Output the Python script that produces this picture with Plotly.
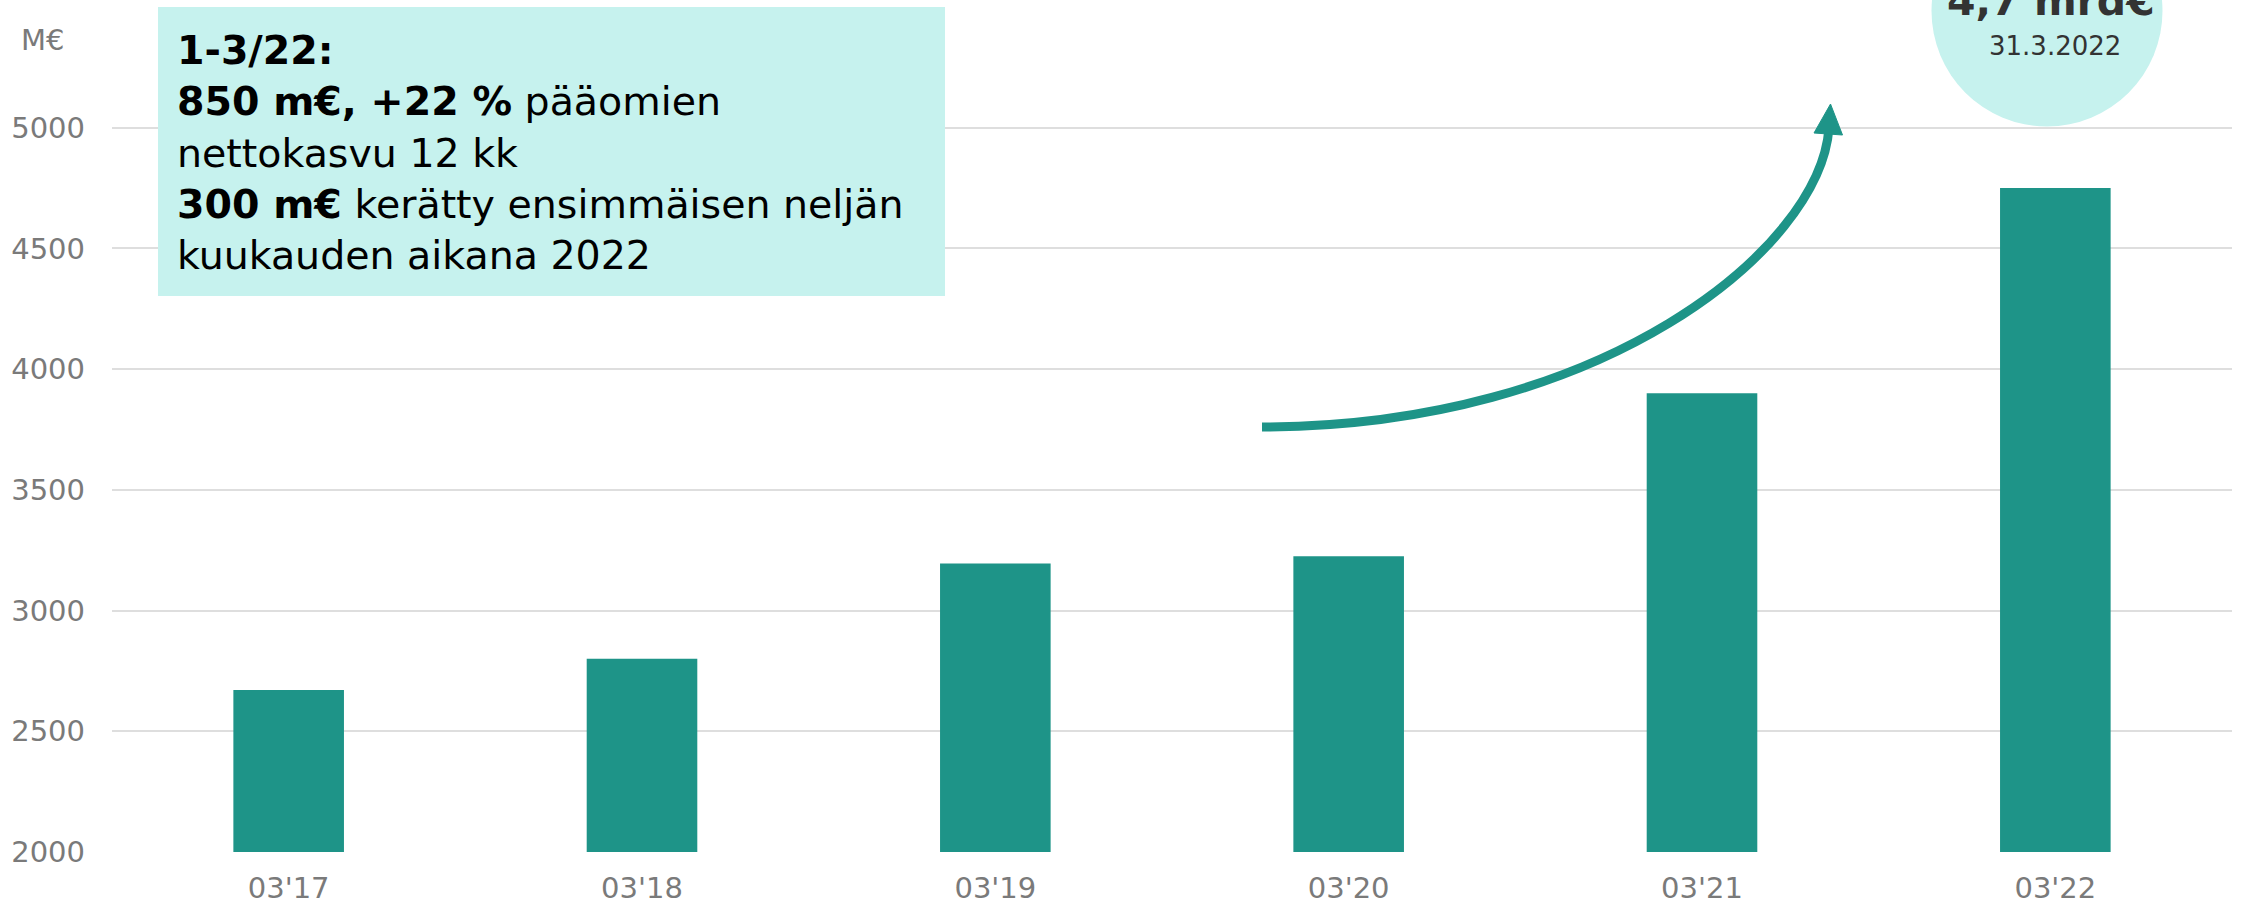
import plotly.graph_objects as go

categories = ["03'17", "03'18", "03'19", "03'20", "03'21", "03'22"]
values = [2671, 2800, 3195, 3225, 3900, 4750]
y_ticks = [2000, 2500, 3000, 3500, 4000, 4500, 5000]

BAR = "#1E9488"
LIGHT = "#C6F2EE"
GRAY = "#7A7A7A"
FONT = "DejaVu Sans"

W, H = 2247, 904
L, R, T, B = 112, 15, 7, 52
PW, PH = W - L - R, H - T - B


def px(x):
    return (x - L) / PW


def py(y):
    return (H - B - y) / PH


fig = go.Figure()
fig.add_trace(go.Bar(x=categories, y=values, marker=dict(color=BAR, line=dict(width=0)),
                     width=0.313, hoverinfo="x+y"))

shapes = []
# text box background
shapes.append(dict(type="rect", xref="paper", yref="paper", x0=px(158), x1=px(945),
                   y0=py(296), y1=py(7), fillcolor=LIGHT, line=dict(width=0), layer="above"))
# circle
shapes.append(dict(type="circle", xref="paper", yref="paper", x0=px(1931.5), x1=px(2162.5),
                   y0=py(126.5), y1=py(-104.5), fillcolor=LIGHT, line=dict(width=0), layer="above"))
# arrow curve
P = [(1262, 427), (1600, 427), (1820, 250), (1829, 128)]
path = "M {},{} C {},{} {},{} {},{}".format(
    px(P[0][0]), py(P[0][1]), px(P[1][0]), py(P[1][1]),
    px(P[2][0]), py(P[2][1]), px(P[3][0]), py(P[3][1]))
shapes.append(dict(type="path", xref="paper", yref="paper", path=path,
                   line=dict(color=BAR, width=9), layer="above"))
head = "M {},{} L {},{} L {},{} Z".format(px(1830.5), py(104), px(1814), py(133),
                                         px(1842.5), py(135))
shapes.append(dict(type="path", xref="paper", yref="paper", path=head,
                   fillcolor=BAR, line=dict(color=BAR, width=1), layer="above"))

annotations = [
    dict(text="M€", x=px(19), y=py(40), xref="paper", yref="paper", xanchor="left",
         yanchor="middle", showarrow=False, font=dict(family=FONT, size=29, color=GRAY)),
    dict(text="<b>1-3/22:</b><br><b>850 m€, +22 %</b> pääomien<br>nettokasvu 12 kk<br>"
              "<b>300 m€</b> kerätty ensimmäisen neljän<br>kuukauden aikana 2022",
         x=px(175), y=py(25), xref="paper", yref="paper", xanchor="left", yanchor="top",
         align="left", showarrow=False, font=dict(family=FONT, size=39.5, color="#000000")),
    dict(text="<b>4,7 mrd€</b>", x=px(2051), y=py(27), xref="paper", yref="paper",
         xanchor="center", yanchor="bottom", showarrow=False,
         font=dict(family=FONT, size=41, color="#333333")),
    dict(text="31.3.2022", x=px(2055), y=py(46), xref="paper", yref="paper",
         xanchor="center", yanchor="middle", showarrow=False,
         font=dict(family=FONT, size=26, color="#333333")),
]

fig.update_layout(
    width=W, height=H,
    margin=dict(l=L, r=R, t=T, b=B, autoexpand=False),
    paper_bgcolor="white", plot_bgcolor="white",
    showlegend=False,
    shapes=shapes,
    annotations=annotations,
    font=dict(family=FONT, size=28, color=GRAY),
)
fig.update_xaxes(range=[-0.5, 5.5], showgrid=False, showline=False, ticks="",
                 tickfont=dict(family=FONT, size=29, color=GRAY), ticklabelstandoff=16,
                 zeroline=False, automargin=False)
fig.update_yaxes(range=[2000, 5500], tickvals=y_ticks, ticktext=[str(v) for v in y_ticks],
                 showgrid=True, gridcolor="#DEDEDE", gridwidth=2, showline=False, ticks="",
                 tickfont=dict(family=FONT, size=29, color=GRAY), ticklabelstandoff=26,
                 zeroline=False, automargin=False)

fig.write_html("out.html", config={"displayModeBar": False},
               post_script="document.body.style.margin='0';document.body.style.overflow='hidden';")
